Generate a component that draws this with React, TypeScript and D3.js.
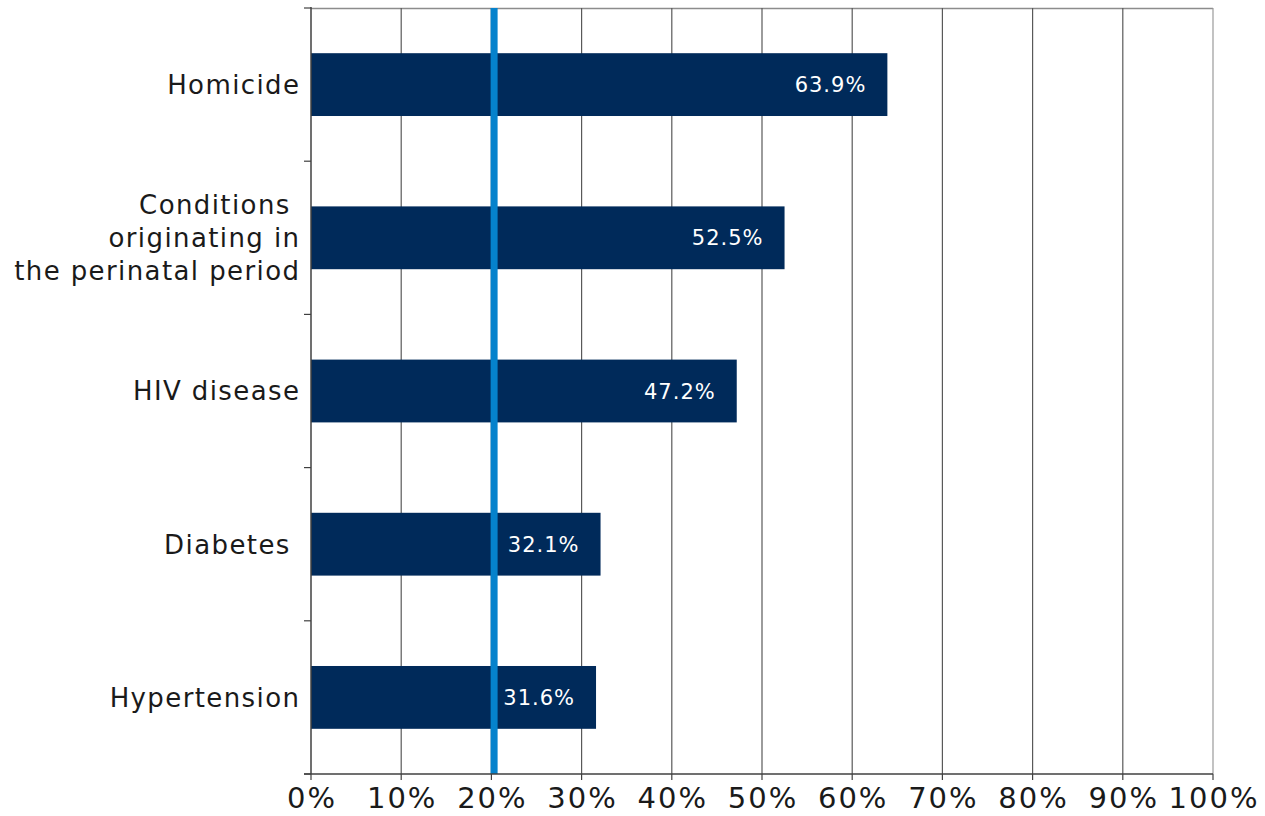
import React from "react";
import * as d3 from "d3";

const categories: string[][] = [
  ["Homicide"],
  ["Conditions ", "originating in", "the perinatal period"],
  ["HIV disease"],
  ["Diabetes "],
  ["Hypertension"],
];
const values: number[] = [63.9, 52.5, 47.2, 32.1, 31.6];
const xTicks: number[] = [0, 10, 20, 30, 40, 50, 60, 70, 80, 90, 100];
const referenceValue = 20.3;

const W = 1265;
const H = 816;
const margin = { left: 311, right: 52, top: 8, bottom: 42 };
const FONT = "'DejaVu Sans', sans-serif";

export default function App() {
  const x = d3.scaleLinear().domain([0, 100]).range([margin.left, W - margin.right]);
  const idx = categories.map((_, i) => String(i));
  const y = d3
    .scaleBand<string>()
    .domain(idx)
    .range([margin.top, H - margin.bottom])
    .paddingInner(0.59)
    .paddingOuter(0.295);
  const y0 = margin.top;
  const y1 = H - margin.bottom;
  const boundaries = d3.range(categories.length + 1).map((i) => y0 + ((y1 - y0) * i) / categories.length);

  const catLS = 1.4;
  const valLS = 1;
  const tickLS = 2;

  return (
    <svg width={W} height={H} style={{ position: "absolute", left: 0, top: 0, background: "#fff" }}>
      {/* top border */}
      <line x1={x(0)} x2={x(100)} y1={y0 + 0.5} y2={y0 + 0.5} stroke="#8c8c8c" strokeWidth={1.5} />
      {/* gridlines */}
      {xTicks.slice(1).map((t) => (
        <line key={t} x1={x(t)} x2={x(t)} y1={y0} y2={y1} stroke={t === 100 ? "#9a9a9a" : "#595959"} strokeWidth={1.2} />
      ))}
      {/* bars */}
      {values.map((v, i) => (
        <rect key={i} x={x(0)} y={y(String(i))} width={x(v) - x(0)} height={y.bandwidth()} fill="#002a5a" />
      ))}
      {/* reference line */}
      <line x1={x(referenceValue)} x2={x(referenceValue)} y1={y0} y2={y1} stroke="#0582cc" strokeWidth={7} />
      {/* value labels */}
      {values.map((v, i) => (
        <text
          key={i}
          x={x(v) - 22 + valLS}
          y={(y(String(i)) as number) + y.bandwidth() / 2}
          dy="0.36em"
          textAnchor="end"
          fill="#ffffff"
          fontFamily={FONT}
          fontSize={21}
          letterSpacing={valLS}
        >
          {v.toFixed(1)}%
        </text>
      ))}
      {/* y axis */}
      <line x1={x(0)} x2={x(0)} y1={y0 - 1} y2={y1} stroke="#404040" strokeWidth={1.5} />
      {boundaries.map((b, i) => (
        <line key={i} x1={x(0) - 7} x2={x(0)} y1={b} y2={b} stroke="#404040" strokeWidth={1.2} />
      ))}
      {/* category labels */}
      {categories.map((lines, i) => {
        const cy = (y(String(i)) as number) + y.bandwidth() / 2;
        const lh = 33;
        return (
          <text
            key={i}
            textAnchor="end"
            fill="#1a1a1a"
            fontFamily={FONT}
            fontSize={26}
            letterSpacing={catLS}
            style={{ whiteSpace: "pre" }}
          >
            {lines.map((l, j) => (
              <tspan key={j} x={299 + catLS} y={cy + (j - (lines.length - 1) / 2) * lh} dy="0.36em">
                {l}
              </tspan>
            ))}
          </text>
        );
      })}
      {/* x axis */}
      <line x1={x(0) - 7} x2={x(100)} y1={y1} y2={y1} stroke="#404040" strokeWidth={1.5} />
      {xTicks.map((t) => (
        <g key={t}>
          <line x1={x(t)} x2={x(t)} y1={y1} y2={y1 + 6} stroke="#404040" strokeWidth={1.2} />
          <text
            x={x(t) + tickLS / 2}
            y={y1 + 24}
            dy="0.36em"
            textAnchor="middle"
            fill="#1a1a1a"
            fontFamily={FONT}
            fontSize={29}
            letterSpacing={tickLS}
          >
            {t}%
          </text>
        </g>
      ))}
    </svg>
  );
}
